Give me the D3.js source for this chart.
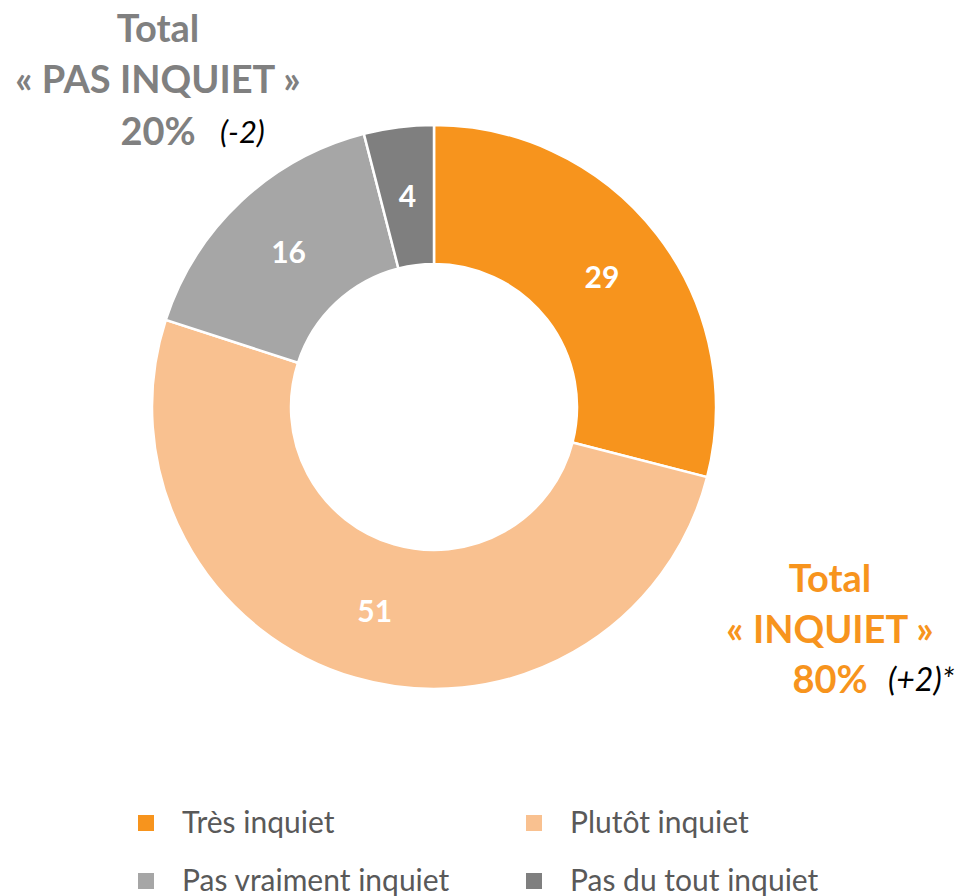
<!DOCTYPE html>
<html>
<head>
<meta charset="utf-8">
<script src="https://cdn.jsdelivr.net/npm/d3@7"></script>
<style>
  body { margin: 0; background: #fff; }
  text { font-family: Lato, "Open Sans", sans-serif; }
</style>
</head>
<body>
<div id="chart"></div>
<script>
// data
let categories = ["Très inquiet", "Plutôt inquiet", "Pas vraiment inquiet", "Pas du tout inquiet"];
let values = [29, 51, 16, 4];
let colors = ["#F7941D", "#F9C190", "#A6A6A6", "#7F7F7F"];

let totalInquiet = ["Total", "« INQUIET »", "80%", "(+2)*"];
let totalPasInquiet = ["Total", "« PAS INQUIET »", "20%", "(-2)"];

let svg = d3.select("#chart")
              .append("svg")
                .attr("width", 960)
                .attr("height", 896)
;

let cx = 434, cy = 407;
let outerR = 282, innerR = 143;

let pie = d3.pie()
              .sort(null)
              .value(function(d){ return d; })
;

let arc = d3.arc()
              .innerRadius(innerR)
              .outerRadius(outerR)
;

let g = svg.append("g")
             .attr("transform", "translate(" + cx + "," + cy + ")")
;

let slices = pie(values);

g.selectAll("path")
    .data(slices)
    .enter()
    .append("path")
      .attr("d", arc)
      .attr("fill", function(d, i){ return colors[i]; })
      .attr("stroke", "white")
      .attr("stroke-width", 2.5)
;

g.selectAll("text.val")
    .data(slices)
    .enter()
    .append("text")
      .attr("class", "val")
      .attr("transform", function(d){ return "translate(" + arc.centroid(d) + ")"; })
      .attr("dy", "0.36em")
      .attr("text-anchor", "middle")
      .attr("fill", "white")
      .attr("font-weight", "bold")
      .attr("font-size", 30)
      .text(function(d){ return d.data; })
;

// total labels
function totalBlock(lines, x, y, color){
  svg.append("text")
      .attr("x", x).attr("y", y)
      .attr("text-anchor", "middle")
      .attr("fill", color).attr("font-weight", "bold").attr("font-size", 38)
      .text(lines[0]);
  svg.append("text")
      .attr("x", x).attr("y", y + 51)
      .attr("text-anchor", "middle")
      .attr("fill", color).attr("font-weight", "bold").attr("font-size", 38)
      .text(lines[1]);
}

totalBlock(totalPasInquiet, 158, 42, "#808080");
svg.append("text")
    .attr("x", 158).attr("y", 145)
    .attr("text-anchor", "middle")
    .attr("fill", "#808080").attr("font-weight", "bold").attr("font-size", 38)
    .text(totalPasInquiet[2]);
svg.append("text")
    .attr("x", 220).attr("y", 143)
    .attr("fill", "black").attr("font-style", "italic").attr("font-size", 31)
    .text(totalPasInquiet[3]);

totalBlock(totalInquiet, 830, 592, "#F7941D");
svg.append("text")
    .attr("x", 830).attr("y", 693)
    .attr("text-anchor", "middle")
    .attr("fill", "#F7941D").attr("font-weight", "bold").attr("font-size", 38)
    .text(totalInquiet[2]);
svg.append("text")
    .attr("x", 888).attr("y", 691)
    .attr("fill", "black").attr("font-style", "italic").attr("font-size", 32)
    .text(totalInquiet[3]);

// legend
let legendX = [138, 526];
let legendY = [823, 881];

let legend = svg.selectAll("g.leg")
    .data(categories)
    .enter()
    .append("g")
      .attr("class", "leg")
      .attr("transform", function(d, i){
        return "translate(" + legendX[i % 2] + "," + legendY[Math.floor(i / 2)] + ")";
      })
;

legend.append("rect")
    .attr("x", 0).attr("y", -8)
    .attr("width", 16).attr("height", 16)
    .attr("fill", function(d, i){ return colors[i]; })
;

legend.append("text")
    .attr("x", 44).attr("y", 10)
    .attr("fill", "#595959")
    .attr("font-size", 30)
    .text(function(d){ return d; })
;
</script>
</body>
</html>
